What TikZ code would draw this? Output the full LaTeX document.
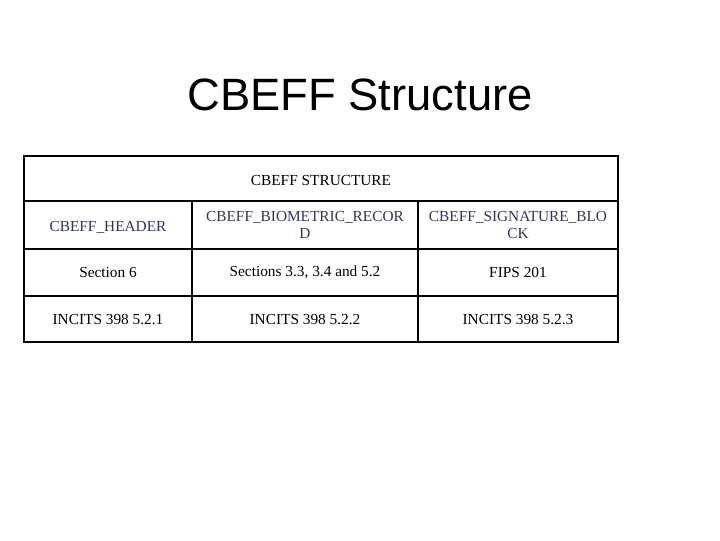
\documentclass[tikz,border=0pt]{standalone}
\usepackage{fontspec}
\setmainfont{Liberation Serif}
\newfontfamily\titlefont{Liberation Sans}
\definecolor{hdrblue}{RGB}{51,51,102}
\begin{document}
\begin{tikzpicture}[x=0.75pt,y=0.75pt,yscale=-1,xscale=1,
  cell/.style={align=center,font=\fontsize{11.5}{13}\selectfont,inner sep=0pt},
  hdr/.style={cell,text=hdrblue}]
\useasboundingbox (0,0) rectangle (720,540);

%Title
\node [font=\titlefont\fontsize{34}{40}\selectfont] (title) at (360,95) {CBEFF Structure};

%Table frame
\draw [line width=1.2] (24,156) rectangle (618,342);
\draw [line width=0.8] (24,201) -- (618,201) (24,249) -- (618,249) (24,296) -- (618,296);
\draw [line width=0.8] (192,201) -- (192,342) (418,201) -- (418,342);

%Cells
\node [cell] (top) at (321,180) {CBEFF STRUCTURE};
\node [hdr] (hdrA) at (108,227) {CBEFF\_HEADER};
\node [hdr] (hdrB) at (305,225) {CBEFF\_BIOMETRIC\_RECOR\\D};
\node [hdr] (hdrC) at (518,225) {CBEFF\_SIGNATURE\_BLO\\CK};
\node [cell] (secA) at (108,272) {Section 6};
\node [cell] (secB) at (305,272) {Sections 3.3, 3.4 and 5.2};
\node [cell] (secC) at (518,272) {FIPS 201};
\node [cell] (refA) at (108,320) {INCITS 398 5.2.1};
\node [cell] (refB) at (305,320) {INCITS 398 5.2.2};
\node [cell] (refC) at (518,320) {INCITS 398 5.2.3};
\end{tikzpicture}
\end{document}
